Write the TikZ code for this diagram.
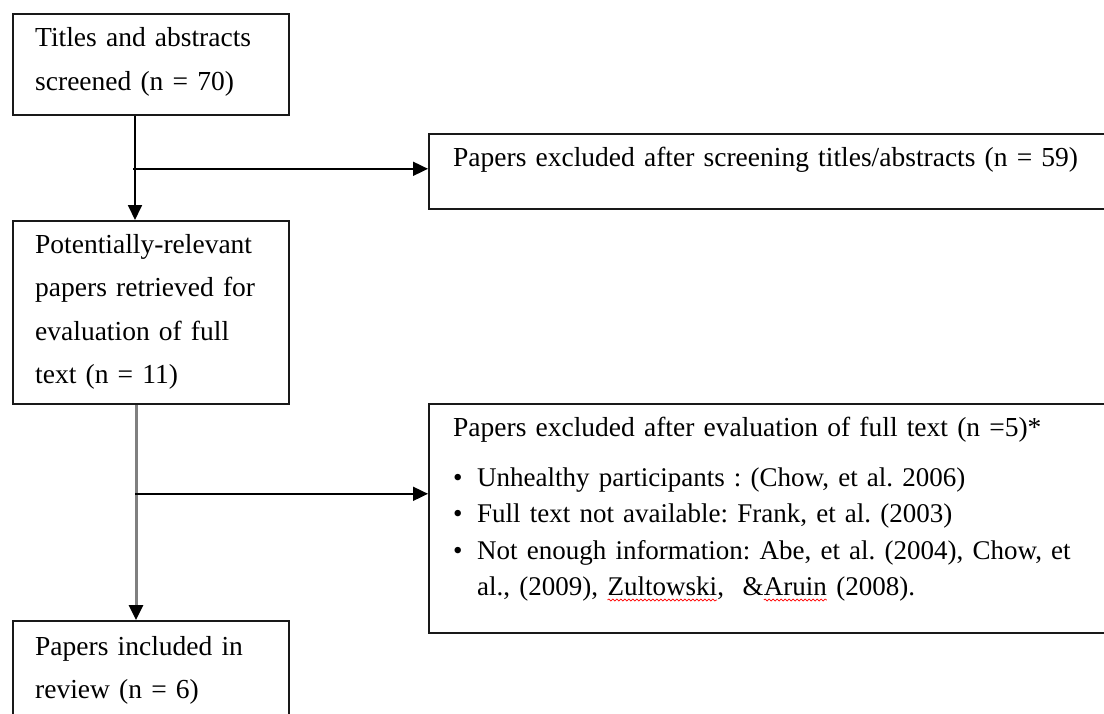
\documentclass[tikz,border=0pt]{standalone}
\usepackage{fontspec}
\setmainfont{Liberation Serif}
\usetikzlibrary{arrows.meta,calc,decorations.pathmorphing}
\frenchspacing
\newcommand\redwave[1]{\tikz[baseline=(w.base)]{\node[inner sep=0pt,outer sep=0pt,text width=,anchor=base west] (w) at (0,0) {#1};
  \draw[red, line width=0.7pt, decorate, decoration={snake,amplitude=1pt,segment length=4pt}] ([yshift=-4.5pt]w.base west) -- ([yshift=-4.5pt]w.base east);}}
\begin{document}
\begin{tikzpicture}[x=1pt,y=-1pt,
  box/.style={draw=black!90, line width=1.8pt, inner sep=0pt, anchor=north west},
  txt/.style={anchor=base west, inner sep=0pt, text width=#1, font=\fontsize{27.5}{43.5}\selectfont},
  arr/.style={line width=1.8pt, -{Triangle[length=15pt,width=14pt]}},
  garr/.style={line width=3pt, draw=black!50, -{Triangle[length=15pt,width=14pt,color=black]}}]
\useasboundingbox (0,0) rectangle (1104,713);
\clip (0,0) rectangle (1104,713);
% boxes
\node[box, minimum width=276pt, minimum height=101pt] (b1) at (12,13) {};
\node[box, minimum width=276pt, minimum height=183pt] (b2) at (12,220) {};
\node[box, minimum width=276pt, minimum height=140pt] (b4) at (12,620) {};
\node[box, minimum width=700pt, minimum height=75pt] (b3) at (428,133) {};
\node[box, minimum width=700pt, minimum height=229pt] (b5) at (428,403) {};
% texts
\node[txt=250pt] (t1) at (35,46.7) {\raggedright Titles and abstracts\newline screened (n = 70)};
\node[txt=250pt] (t2) at (35,253) {\raggedright Potentially-relevant\newline papers retrieved for\newline evaluation of full\newline text (n = 11)};
\node[txt=250pt] (t4) at (35,655) {\raggedright Papers included in\newline review (n = 6)};
\node[txt=700pt] (t3) at (453,166) {\raggedright Papers excluded after screening titles/abstracts (n = 59)};
\node[txt=700pt] (t5) at (453,436) {\raggedright\parindent=0pt\parskip=0pt
Papers excluded after evaluation of full text (n =5)*\par
\fontsize{27}{36.5}\selectfont\vspace{13.5pt}
\makebox[24pt][l]{\textbullet}Unhealthy participants : (Chow, et al. 2006)\par
\makebox[24pt][l]{\textbullet}Full text not available: Frank, et al. (2003)\par
\makebox[24pt][l]{\textbullet}Not enough information: Abe, et al. (2004), Chow, et\newline
\hspace*{24pt}al., (2009), \redwave{Zultowski}, \ \&\redwave{Aruin} (2008).\par};
% connectors
\coordinate (c1) at ($(b1.south west)+(123,0)$);
\draw[arr] (c1) -- (c1 |- b2.north);
\coordinate (j1) at ($(c1)+(-2,53)$);
\draw[arr] (j1) -- (j1 -| b3.west);
\coordinate (c2) at ($(b2.south west)+(124,0)$);
\draw[garr] (c2) -- (c2 |- b4.north);
\coordinate (j2) at ($(c2)+(-1,89)$);
\draw[arr] (j2) -- (j2 -| b5.west);
\end{tikzpicture}
\end{document}
